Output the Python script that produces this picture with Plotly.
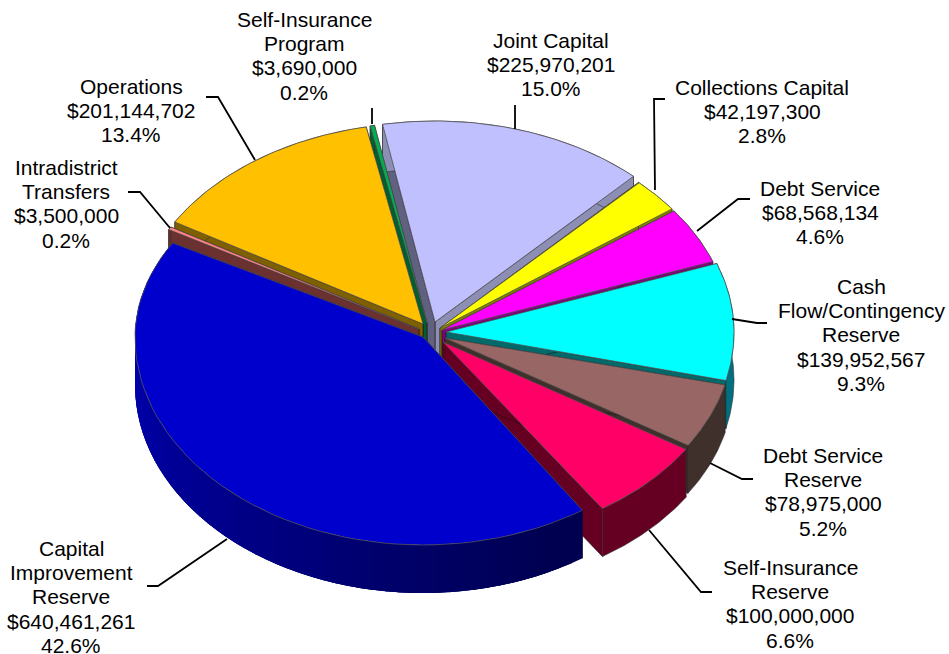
import numpy as np
import plotly.graph_objects as go

# ---- data (clockwise from the first slice) ----
categories = ["Joint Capital", "Collections Capital", "Debt Service", "Cash Flow/Contingency Reserve",
              "Debt Service Reserve", "Self-Insurance Reserve", "Capital Improvement Reserve",
              "Intradistrict Transfers", "Operations", "Self-Insurance Program"]
values = [225970201, 42197300, 68568134, 139952567, 78975000, 100000000, 640461261, 3500000, 201144702, 3690000]
percent_labels = ["15.0%", "2.8%", "4.6%", "9.3%", "5.2%", "6.6%", "42.6%", "0.2%", "13.4%", "0.2%"]

# ---- styles / layout ----
top_colors = ["#C0C0FF", "#FFFF00", "#FF00FF", "#00FFFF", "#996666", "#FF0066", "#0000CC", "#FF8080", "#FFC000", "#00B050"]
cut_a_colors = ["#606080", "#7F7F00", "#800080", "#006A6A", "#40302C", "#660022", "#000066", "#6B3030", "#7F6000", "#006030"]
cut_b_colors = ["#8C8EB4", "#7F7F00", "#800080", "#006A6A", "#40302C", "#660022", "#000066", "#6B3030", "#7F6000", "#006030"]
outer_colors = ["#8C8EB4", "#7F7F00", "#800080", "#007080", "#40302C", "#660022", None, "#6B3030", "#7F6000", "#006030"]
# exploded wedge tips, in the page's pixel frame
tip_x = [435, 440, 442, 446, 445, 443, 423, 419, 423, 427]
tip_y = [322, 328, 330, 332, 338, 342, 337, 329, 324, 323]
ry_front = [207, 207, 207, 207, 200, 200, 208, 207, 207, 207]
ry_back = [201, 201, 201, 201, 201, 201, 190, 201, 201, 201]
paint_order = [0, 9, 1, 8, 2, 7, 3, 4, 5, 6]
RX, DEPTH, START = 288, 48, -10.5

label_lines = [
    ["Joint Capital", "$225,970,201"],
    ["Collections Capital", "$42,197,300"],
    ["Debt Service", "$68,568,134"],
    ["Cash", "Flow/Contingency", "Reserve", "$139,952,567"],
    ["Debt Service", "Reserve", "$78,975,000"],
    ["Self-Insurance", "Reserve", "$100,000,000"],
    ["Capital", "Improvement", "Reserve", "$640,461,261"],
    ["Intradistrict", "Transfers", "$3,500,000"],
    ["Operations", "$201,144,702"],
    ["Self-Insurance", "Program", "$3,690,000"],
]
label_x = [551, 762, 820, 861, 823, 790, 71, 66, 131, 304]
label_y = [40, 87, 188, 286, 455, 567, 548, 167, 86, 19]
LINE_STEP = 24.4
leaders = [
    [(515, 105), (515, 129)],
    [(665, 99), (654, 99), (655, 190)],
    [(697, 231), (738, 199), (750, 199)],
    [(732, 319), (757, 323), (767, 323)],
    [(710, 463), (742, 479), (753, 479)],
    [(649, 530), (701, 592), (712, 592)],
    [(227, 539), (158, 586), (147, 586)],
    [(170, 228), (140, 192), (128, 192)],
    [(255, 160), (218, 97), (206, 97)],
    [(372, 108), (372, 124)],
]

total = sum(values)
sweeps = [v / total * 360 for v in values]
bounds = START + np.concatenate([[0], np.cumsum(sweeps)])


def rim(i, a, b, n=60):
    t = np.radians(np.linspace(a, b, max(n, 2)))
    c = np.cos(t)
    return tip_x[i] + RX * np.sin(t), tip_y[i] - np.where(c > 0, ry_back[i], ry_front[i]) * c


def poly(fig, xs, ys, color, line, width, name):
    fig.add_trace(go.Scatter(x=list(xs) + [xs[0]], y=list(ys) + [ys[0]], mode="lines", fill="toself",
                             fillcolor=color, line=dict(color=line, width=width),
                             hoverinfo="skip", showlegend=False, name=name))


def mix(c1, c2, f):
    return "rgb(%d,%d,%d)" % tuple(c1[k] + (c2[k] - c1[k]) * f for k in range(3))


fig = go.Figure()
for i in paint_order:
    a, b = bounds[i], bounds[i + 1]
    x, y = rim(i, a, b)
    name = categories[i]
    tx, ty = tip_x[i], tip_y[i]
    # two cut faces
    for (ex, ey), col in (((x[-1], y[-1]), cut_b_colors[i]), ((x[0], y[0]), cut_a_colors[i])):
        poly(fig, [tx, ex, ex, tx], [ty, ey, ey + DEPTH, ty + DEPTH], col, "#201010", 0.6, name)
    # outer wall
    if outer_colors[i] is None:
        edges = np.linspace(a, b, 61)
        for k in range(60):
            # every band runs on under the next one so that no seam shows
            sx, sy = rim(i, edges[k], min(edges[k] + 8, b), 8)
            f = min(1.0, max(0.0, (edges[k] - 150) / 120))
            c = mix((0, 0, 80), (0, 0, 176), f)
            poly(fig, list(sx) + list(sx[::-1]), list(sy) + list(sy[::-1] + DEPTH), c, c, 0, name)
    else:
        poly(fig, list(x) + list(x[::-1]), list(y) + list(y[::-1] + DEPTH), outer_colors[i], "#303030", 0.6, name)
    # top
    poly(fig, [tx] + list(x), [ty] + list(y), top_colors[i], "#505050", 0.8, name)

annotations = []
for lines, pct, lx, ly in zip(label_lines, percent_labels, label_x, label_y):
    for k, text in enumerate(lines + [pct]):
        annotations.append(dict(x=lx, y=ly + k * LINE_STEP, text=text, showarrow=False, xref="x", yref="y",
                                xanchor="center", yanchor="middle",
                                font=dict(family="Liberation Sans", size=21, color="#000000")))

shapes = []
for pts in leaders:
    path = "M " + " L ".join(f"{px} {py}" for px, py in pts)
    shapes.append(dict(type="path", path=path, xref="x", yref="y", line=dict(color="#000000", width=1.8)))

fig.update_layout(width=949, height=654, margin=dict(l=0, r=0, t=0, b=0), autosize=False,
                  paper_bgcolor="white", plot_bgcolor="white",
                  xaxis=dict(range=[0, 949], visible=False, fixedrange=True),
                  yaxis=dict(range=[654, 0], visible=False, fixedrange=True),
                  annotations=annotations, shapes=shapes)

fig.write_html("out.html", config=dict(displayModeBar=False),
               post_script="document.body.style.margin='0';document.body.style.overflow='hidden';")
